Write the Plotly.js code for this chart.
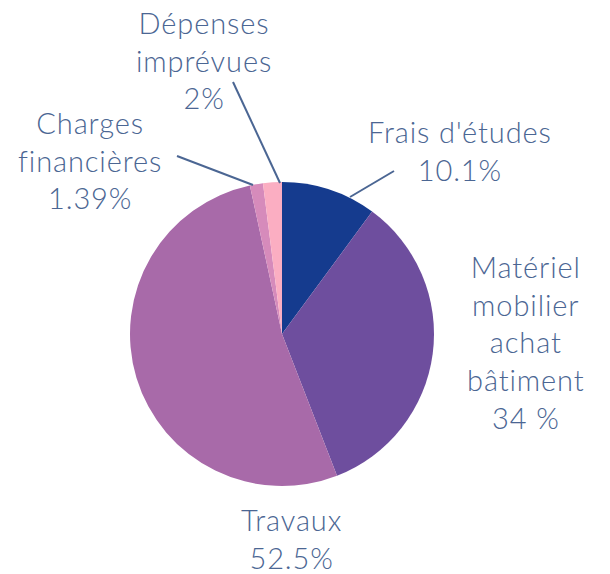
<!DOCTYPE html>
<html>
<head>
<meta charset="utf-8">
<script src="https://cdn.plot.ly/plotly-3.0.1.min.js"></script>
<style>html,body{margin:0;padding:0;background:#fff;}#chart{width:610px;height:574px;}
.annotation-text{letter-spacing:0.9px;}</style>
</head>
<body>
<div id="chart"></div>
<script>
// Data
const labels = ["Frais d'études", "Matériel mobilier achat bâtiment", "Travaux", "Charges financières", "Dépenses imprévues"];
const values = [10.1, 34, 52.5, 1.39, 2];
const percentTexts = ["10.1%", "34 %", "52.5%", "1.39%", "2%"];
const labelLines = [["Frais d'études"], ["Matériel", "mobilier", "achat", "bâtiment"], ["Travaux"], ["Charges", "financières"], ["Dépenses", "imprévues"]];
const colors = ["#153b8e", "#6e4e9e", "#a86aa9", "#d68bbb", "#fbaec2"];

// Layout helpers (pixel -> paper)
const W = 610, H = 574;
const px = x => x / W;
const py = y => 1 - y / H;
const textColor = "#4b6693";
const fontFamily = "Lato, 'Open Sans', sans-serif";

// label block centers (pixels)
const labelPos = [[460, 150], [526, 342], [291, 538], [90, 160], [204, 60]];
// leader lines (pixels) : [x0,y0,x1,y1] or null
const leaders = [[394, 171, 350, 197], null, null, [177, 156, 253, 185], [233, 82, 280, 183]];

const annotations = labels.map((l, i) => ({
  xref: 'paper', yref: 'paper',
  x: px(labelPos[i][0]), y: py(labelPos[i][1]),
  xanchor: 'center', yanchor: 'middle',
  text: labelLines[i].concat([percentTexts[i]]).join('<br>'),
  showarrow: false, align: 'center',
  font: {family: fontFamily, size: 29, weight: 300, color: textColor}
}));

const shapes = leaders.filter(s => s).map(s => ({
  type: 'line', xref: 'paper', yref: 'paper',
  x0: px(s[0]), y0: py(s[1]), x1: px(s[2]), y1: py(s[3]),
  line: {color: textColor, width: 2}
}));

const trace = {
  type: 'pie',
  labels: labels,
  values: values,
  sort: false,
  direction: 'clockwise',
  rotation: 0,
  marker: {colors: colors, line: {width: 0}},
  textinfo: 'none',
  hoverinfo: 'label+percent',
  domain: {x: [px(130), px(434)], y: [py(486), py(182)]},
  showlegend: false
};

const layout = {
  width: W, height: H,
  margin: {l: 0, r: 0, t: 0, b: 0},
  paper_bgcolor: '#fff',
  plot_bgcolor: '#fff',
  showlegend: false,
  annotations: annotations,
  shapes: shapes
};

Plotly.newPlot('chart', [trace], layout, {displayModeBar: false, staticPlot: true});
</script>
</body>
</html>
